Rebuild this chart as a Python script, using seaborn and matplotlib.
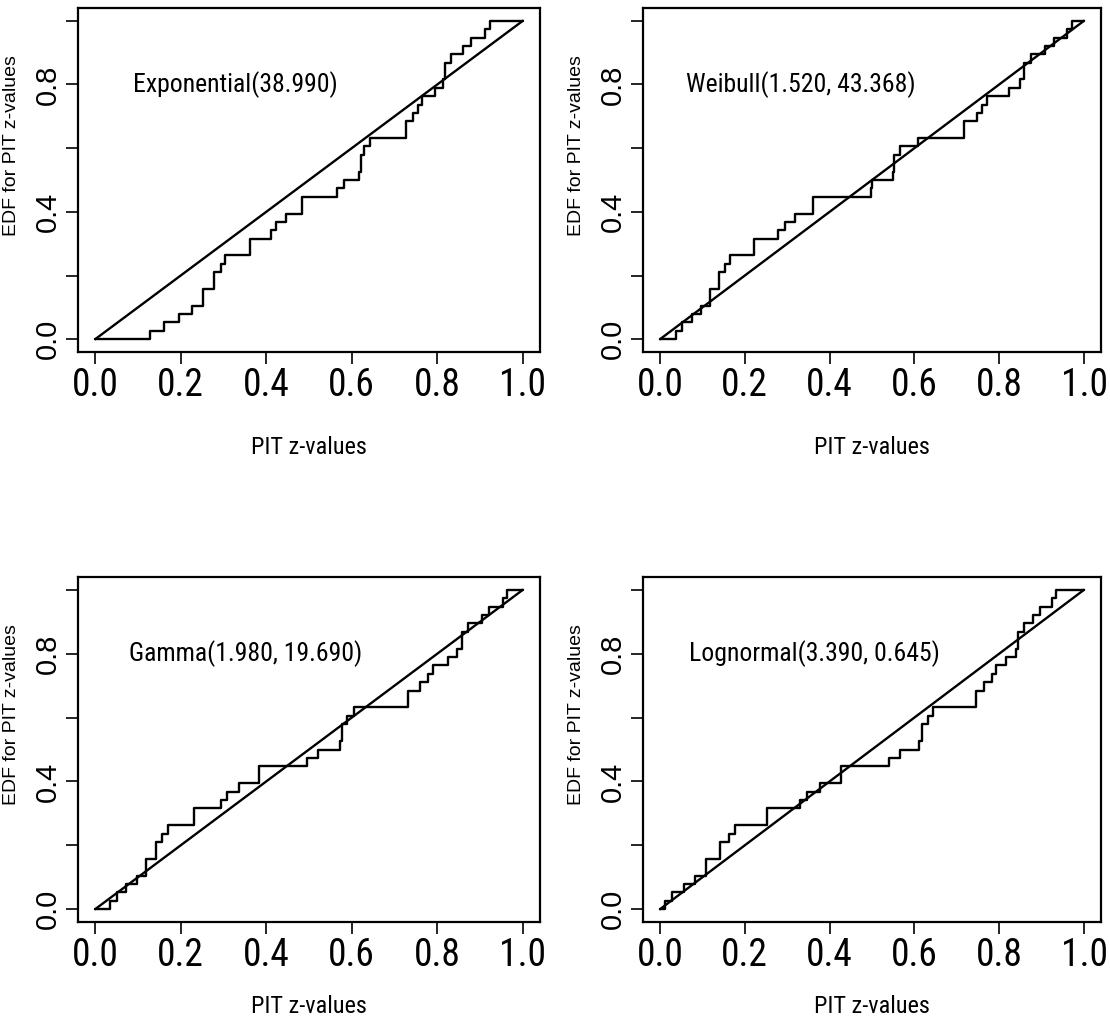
import numpy as np
import pandas as pd
import matplotlib
matplotlib.use("Agg")
import matplotlib.pyplot as plt
from matplotlib import font_manager
from matplotlib.font_manager import FontProperties
import seaborn as sns

# ---- data (PIT z-values, sorted) ----
exp_z = [0.128, 0.160, 0.197, 0.226, 0.252, 0.252, 0.278, 0.278, 0.294, 0.304,
         0.362, 0.362, 0.411, 0.424, 0.446, 0.483, 0.483, 0.565, 0.582, 0.617,
         0.621, 0.621, 0.628, 0.642, 0.727, 0.727, 0.744, 0.754, 0.763, 0.794,
         0.814, 0.819, 0.819, 0.831, 0.861, 0.878, 0.911, 0.923]
weib_z = [0.037, 0.052, 0.076, 0.096, 0.117, 0.117, 0.140, 0.140, 0.153, 0.164,
          0.221, 0.221, 0.279, 0.294, 0.318, 0.362, 0.362, 0.497, 0.499, 0.549,
          0.552, 0.552, 0.567, 0.608, 0.718, 0.718, 0.748, 0.760, 0.772, 0.823,
          0.850, 0.858, 0.858, 0.874, 0.909, 0.929, 0.960, 0.972]
gamma_z = [0.035, 0.051, 0.072, 0.097, 0.119, 0.119, 0.143, 0.143, 0.156, 0.171,
           0.230, 0.230, 0.294, 0.308, 0.336, 0.382, 0.382, 0.496, 0.522, 0.572,
           0.576, 0.576, 0.588, 0.605, 0.731, 0.731, 0.759, 0.779, 0.790, 0.825,
           0.845, 0.857, 0.857, 0.872, 0.904, 0.921, 0.953, 0.962]
logn_z = [0.013, 0.029, 0.056, 0.082, 0.109, 0.109, 0.141, 0.141, 0.162, 0.176,
          0.252, 0.252, 0.330, 0.347, 0.377, 0.428, 0.428, 0.541, 0.567, 0.612,
          0.617, 0.617, 0.631, 0.643, 0.745, 0.745, 0.765, 0.784, 0.792, 0.816,
          0.839, 0.845, 0.845, 0.858, 0.880, 0.896, 0.925, 0.935]

panel_titles = ["Exponential(38.990)", "Weibull(1.520, 43.368)",
                "Gamma(1.980, 19.690)", "Lognormal(3.390, 0.645)"]
title_x = [0.328, 0.333, 0.353, 0.364]
title_y = [0.8, 0.8, 0.8, 0.8]
x_ticks = [0.0, 0.2, 0.4, 0.6, 0.8, 1.0]
x_ticklabels = ["0.0", "0.2", "0.4", "0.6", "0.8", "1.0"]
y_ticks = [0.0, 0.2, 0.4, 0.6, 0.8, 1.0]
y_ticklabels = ["0.0", "", "0.4", "", "0.8", ""]
x_label = "PIT z-values"
y_label = "EDF for PIT z-values"

sns.set_style("ticks")
plt.rcParams["font.family"] = ["Liberation Sans", "DejaVu Sans"]
for k in ["text.color", "axes.labelcolor", "xtick.color", "ytick.color", "axes.edgecolor"]:
    plt.rcParams[k] = "black"


# ---- find a condensed / narrow sans font (Helvetica-Narrow look) ----
def _is_regular(f):
    w = f.weight
    try:
        w = int(w)
    except (TypeError, ValueError):
        w = {"normal": 400, "regular": 400, "book": 400, "medium": 500}.get(str(w).lower(), 700)
    return f.style == "normal" and 350 <= w <= 450


def _is_narrow(f):
    st = str(f.stretch).lower()
    nm = f.name.lower()
    return ("narrow" in nm or "condensed" in nm or
            st in ("condensed", "semi-condensed", "extra-condensed", "ultra-condensed") or
            (st.isdigit() and int(st) < 500))


pref = ["liberation sans narrow", "arial narrow", "nimbus sans narrow", "roboto condensed",
        "noto sans", "open sans", "dejavu sans"]
narrow_path = None
cands = [f for f in font_manager.fontManager.ttflist if _is_narrow(f) and _is_regular(f)]
for p in pref:
    for f in cands:
        if f.name.lower().startswith(p) and "mono" not in f.name.lower():
            narrow_path = f.fname
            break
    if narrow_path:
        break
if narrow_path is None and cands:
    narrow_path = cands[0].fname


def nfont(size):
    if narrow_path:
        return FontProperties(fname=narrow_path, size=size)
    return FontProperties(family="Liberation Sans", size=size * 0.85)


fig = plt.figure(figsize=(11.1, 10.19), dpi=100)
W, H = 1110.0, 1019.0
boxes = [(78, 8, 540, 352), (643, 8, 1101, 352),
         (78, 577, 540, 922), (643, 577, 1101, 922)]
xlabel_top = [436, 436, 995, 995]
datasets = [exp_z, weib_z, gamma_z, logn_z]

for i, (z, (l, t, r, b)) in enumerate(zip(datasets, boxes)):
    ax = fig.add_axes([l / W, 1 - b / H, (r - l) / W, (b - t) / H])
    zs = np.sort(np.asarray(z))
    n = len(zs)
    step_df = pd.DataFrame({
        "x": np.r_[0.0, zs, 1.0],
        "y": np.r_[0.0, np.arange(1, n + 1) / n, 1.0],
    })
    sns.lineplot(data=step_df, x="x", y="y", ax=ax, sort=False, estimator=None,
                 drawstyle="steps-post", color="black", linewidth=1.7)
    diag_df = pd.DataFrame({"x": [0.0, 1.0], "y": [0.0, 1.0]})
    sns.lineplot(data=diag_df, x="x", y="y", ax=ax, sort=False, estimator=None,
                 color="black", linewidth=1.7)
    ax.set_xlim(-0.04, 1.04)
    ax.set_ylim(-0.04, 1.04)
    ax.set_xticks(x_ticks)
    ax.set_xticklabels(x_ticklabels, fontproperties=nfont(27))
    ax.set_yticks(y_ticks)
    ax.set_yticklabels(y_ticklabels, rotation=90, va="center", fontsize=21)
    ax.tick_params(axis="both", direction="out", length=8.5, width=1.2,
                   color="black", top=False, right=False)
    ax.tick_params(axis="x", pad=2)
    ax.tick_params(axis="y", pad=3)
    for s in ax.spines.values():
        s.set_visible(True)
        s.set_linewidth(1.6)
        s.set_color("black")
    ax.set_xlabel(x_label, fontproperties=nfont(17.5))
    ax.xaxis.set_label_coords(0.5, -(xlabel_top[i] - b) / (b - t))
    ax.xaxis.label.set_va("top")
    ax.set_ylabel(y_label, fontsize=14)
    ax.yaxis.set_label_coords(-58.0 / (r - l), 0.6)
    ax.text(title_x[i], title_y[i], panel_titles[i], ha="center", va="center",
            fontproperties=nfont(18.5), color="black")

fig.savefig("out.png", dpi=100)
